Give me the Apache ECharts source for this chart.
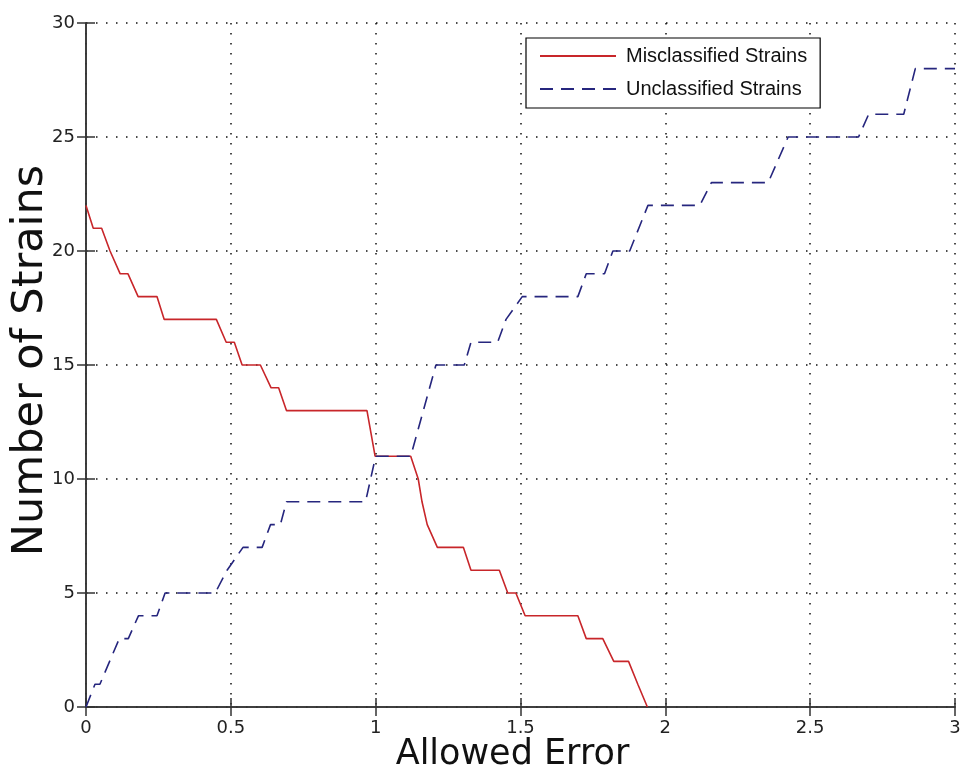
<!DOCTYPE html>
<html>
<head>
<meta charset="utf-8">
<script src="https://cdn.jsdelivr.net/npm/echarts@6/dist/echarts.min.js"></script>
<style>
  html, body { margin: 0; padding: 0; background: #fff; }
  #chart { width: 961px; height: 770px; }
</style>
</head>
<body>
<div id="chart"></div>
<script>
// Misclassified strains vs. allowed error (vertices of the stepped curve)
const missX = [0, 0.025, 0.054, 0.083, 0.118, 0.145, 0.18, 0.245, 0.27, 0.45, 0.484, 0.512,
  0.539, 0.602, 0.639, 0.665, 0.692, 0.97, 0.998, 1.121, 1.147, 1.16, 1.178, 1.213, 1.303,
  1.329, 1.427, 1.456, 1.484, 1.516, 1.698, 1.727, 1.784, 1.822, 1.873, 1.905, 1.938];
const missY = [22, 21, 21, 20, 19, 19, 18, 18, 17, 17, 16, 16,
  15, 15, 14, 14, 13, 13, 11, 11, 10, 9, 8, 7, 7,
  6, 6, 5, 5, 4, 4, 3, 3, 2, 2, 1, 0];

// Unclassified strains vs. allowed error
const unclX = [0, 0.031, 0.048, 0.115, 0.146, 0.181, 0.245, 0.273, 0.446, 0.487, 0.542, 0.608,
  0.637, 0.671, 0.692, 0.965, 1.0, 1.121, 1.208, 1.306, 1.329, 1.421, 1.45, 1.506, 1.698,
  1.727, 1.79, 1.819, 1.877, 1.94, 2.119, 2.159, 2.355, 2.424, 2.667, 2.702, 2.823, 2.863, 3.0];
const unclY = [0, 1, 1, 3, 3, 4, 4, 5, 5, 6, 7, 7,
  8, 8, 9, 9, 11, 11, 15, 15, 16, 16, 17, 18, 18,
  19, 19, 20, 20, 22, 22, 23, 23, 25, 25, 26, 26, 28, 28];

const seriesNames = ['Misclassified Strains', 'Unclassified Strains'];
const xTitle = 'Allowed Error';
const yTitle = 'Number of Strains';

const zip = (xs, ys) => xs.map((x, i) => [x, ys[i]]);

const axisColor = '#333';
const gridLine = { show: true, lineStyle: { color: '#111', width: 1.5, type: [1.5, 8.5] } };
const tickFont = { fontFamily: 'DejaVu Sans', fontSize: 18, color: '#222' };

const chart = echarts.init(document.getElementById('chart'), null, { renderer: 'canvas' });
chart.setOption({
  animation: false,
  backgroundColor: '#fff',
  grid: { left: 86, right: 6, top: 23, bottom: 63, containLabel: false, outerBoundsMode: 'none' },
  legend: {
    orient: 'vertical',
    left: 526,
    top: 38,
    padding: [7, 13, 8, 13],
    itemWidth: 76,
    itemHeight: 14,
    itemGap: 11,
    borderColor: '#000',
    borderWidth: 1.2,
    backgroundColor: '#fff',
    itemStyle: { opacity: 0 },
    textStyle: { fontFamily: 'Liberation Sans', fontSize: 20, color: '#111', lineHeight: 22, padding: [0, 0, 0, 5] },
    data: seriesNames
  },
  xAxis: [
    {
      type: 'value', min: 0, max: 3, interval: 0.5,
      name: xTitle, nameLocation: 'middle', nameGap: 30, nameMoveOverlap: false,
      nameTextStyle: { fontFamily: 'DejaVu Sans', fontSize: 35, color: '#111', padding: [0, 16, 0, 0] },
      axisLine: { show: true, lineStyle: { color: axisColor, width: 1.5 } },
      axisTick: { show: true, inside: true, length: 9, lineStyle: { color: axisColor, width: 1.5 } },
      axisLabel: Object.assign({ margin: 12 }, tickFont),
      splitLine: gridLine
    },
    {
      type: 'value', position: 'top', min: 0, max: 3, interval: 0.5,
      axisLine: { show: true, lineStyle: { color: axisColor, width: 1.5 } },
      axisTick: { show: true, inside: true, length: 9, lineStyle: { color: axisColor, width: 1.5 } },
      axisLabel: { show: false },
      splitLine: { show: false }
    }
  ],
  yAxis: [
    {
      type: 'value', min: 0, max: 30, interval: 5,
      name: yTitle, nameLocation: 'middle', nameGap: 34, nameRotate: 90, nameMoveOverlap: false,
      nameTextStyle: { fontFamily: 'DejaVu Sans', fontSize: 43, color: '#111', padding: [0, 0, 0, 9] },
      axisLine: { show: true, lineStyle: { color: axisColor, width: 1.5 } },
      axisTick: { show: true, inside: true, length: 9, lineStyle: { color: axisColor, width: 1.5 } },
      axisLabel: Object.assign({ margin: 11 }, tickFont),
      splitLine: gridLine
    },
    {
      type: 'value', position: 'right', min: 0, max: 30, interval: 5,
      axisLine: { show: true, lineStyle: { color: axisColor, width: 1.5 } },
      axisTick: { show: true, inside: true, length: 9, lineStyle: { color: axisColor, width: 1.5 } },
      axisLabel: { show: false },
      splitLine: { show: false }
    }
  ],
  series: [
    {
      name: seriesNames[0], type: 'line', xAxisIndex: 0, yAxisIndex: 0,
      data: zip(missX, missY),
      symbol: 'none', smooth: false,
      lineStyle: { color: '#c8262a', width: 1.6, type: 'solid' },
      itemStyle: { color: '#c8262a' }
    },
    {
      name: seriesNames[1], type: 'line', xAxisIndex: 0, yAxisIndex: 0,
      data: zip(unclX, unclY),
      symbol: 'none', smooth: false,
      lineStyle: { color: '#26267e', width: 1.6, type: [13, 8] },
      itemStyle: { color: '#26267e' }
    }
  ]
});
</script>
</body>
</html>
